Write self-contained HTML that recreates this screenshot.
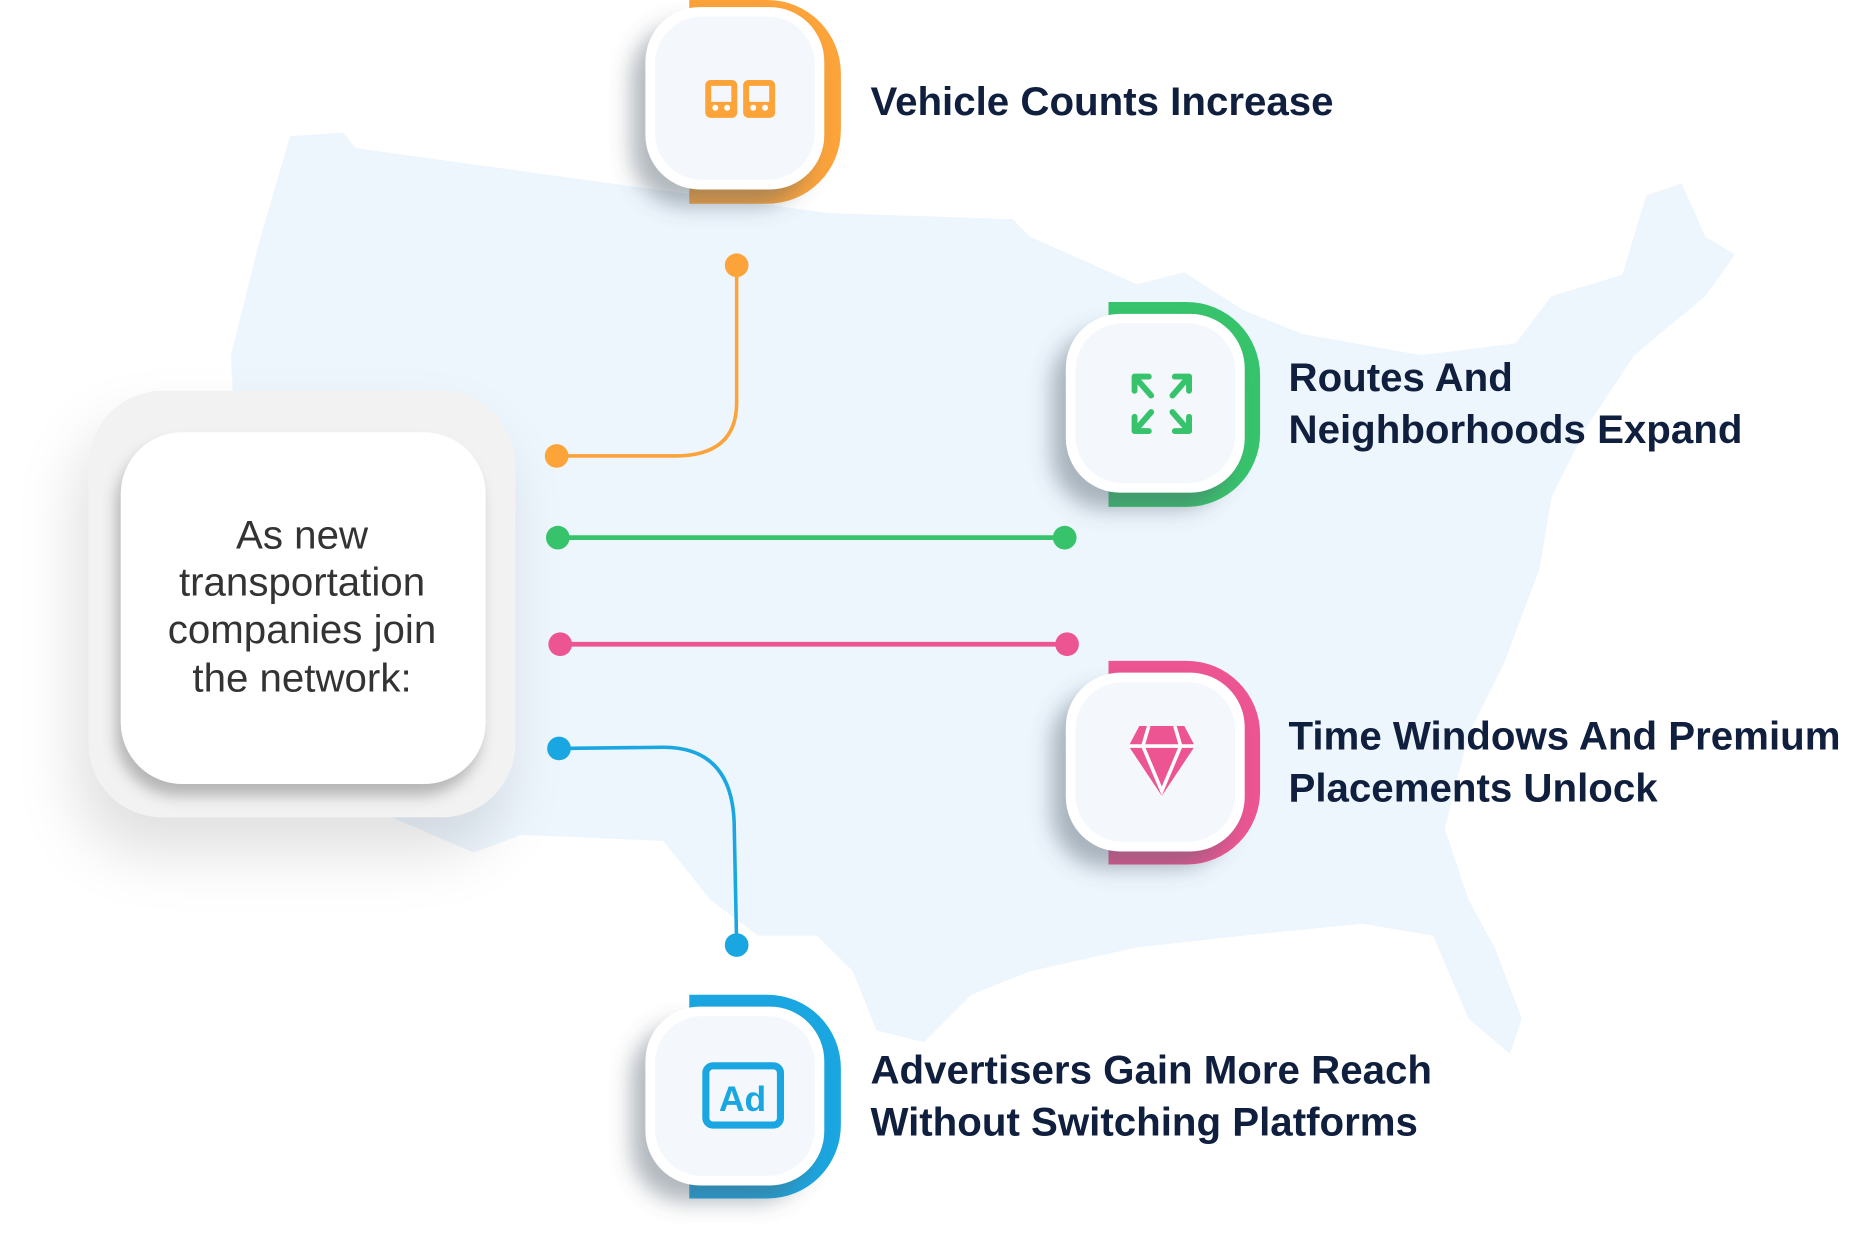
<!DOCTYPE html>
<html><head><meta charset="utf-8"><style>
html,body{margin:0;padding:0;background:#fff;width:1857px;height:1234px;overflow:hidden}
svg{display:block}
.t{font-family:"Liberation Sans",sans-serif;font-weight:bold;fill:#0f1f3d;font-size:34px}
.c{font-family:"Liberation Sans",sans-serif;fill:#333;font-size:34px;text-anchor:middle}
</style></head><body>
<svg width="1857" height="1234" viewBox="0 0 1568 1042" xmlns="http://www.w3.org/2000/svg">
<defs>
<filter id="sh" x="-40%" y="-40%" width="180%" height="180%"><feDropShadow dx="-12" dy="14" stdDeviation="9" flood-color="#556070" flood-opacity="0.45"/></filter>
<filter id="sh2" x="-40%" y="-40%" width="180%" height="180%"><feDropShadow dx="-10" dy="30" stdDeviation="25" flood-color="#000" flood-opacity="0.12"/></filter>
<filter id="sh3" x="-20%" y="-20%" width="140%" height="140%"><feDropShadow dx="-4" dy="10" stdDeviation="6" flood-color="#000" flood-opacity="0.25"/></filter>
</defs>
<path fill="#edf5fd" d="M245,115 L290,112 L300,125 L480,150 L700,180 L855,185 L870,200 L960,240 L1000,230 L1050,262 L1100,282 L1200,300 L1280,290 L1310,250 L1370,232 L1390,165 L1420,155 L1440,200 L1465,215 L1440,250 L1380,300 L1340,360 L1310,420 L1300,480 L1270,560 L1240,620 L1220,700 L1240,760 L1262,800 L1285,860 L1275,890 L1240,860 L1210,790 L1150,780 L1050,790 L960,800 L870,820 L820,840 L780,880 L740,870 L720,820 L690,790 L640,790 L600,760 L560,710 L440,705 L400,720 L330,690 L250,680 L200,600 L200,400 L195,300 L220,200 Z"/>

<rect x="75" y="330" width="360" height="360" rx="62" fill="#f2f2f2" filter="url(#sh2)"/>
<rect x="102" y="365" width="308" height="297" rx="52" fill="#fff" filter="url(#sh3)"/>
<text class="c" x="255" y="463">As new</text>
<text class="c" x="255" y="503">transportation</text>
<text class="c" x="255" y="543">companies join</text>
<text class="c" x="255" y="584">the network:</text>

<path d="M622,224 L622,340 Q622,385 570,385 L470,385" fill="none" stroke="#fca33a" stroke-width="3"/>
<circle cx="622" cy="224" r="10" fill="#fca33a"/><circle cx="470" cy="385" r="10" fill="#fca33a"/>
<line x1="471" y1="454" x2="899" y2="454" stroke="#37c36c" stroke-width="4"/>
<circle cx="471" cy="454" r="10" fill="#37c36c"/><circle cx="899" cy="454" r="10" fill="#37c36c"/>
<line x1="473" y1="544" x2="901" y2="544" stroke="#ec5592" stroke-width="4"/>
<circle cx="473" cy="544" r="10" fill="#ec5592"/><circle cx="901" cy="544" r="10" fill="#ec5592"/>
<path d="M472,632 L560,631 Q620,631 620,700 L622,798" fill="none" stroke="#1aa6e0" stroke-width="3"/>
<circle cx="472" cy="632" r="10" fill="#1aa6e0"/><circle cx="622" cy="798" r="10" fill="#1aa6e0"/>

<clipPath id="c1"><rect x="582" y="0" width="200" height="180"/></clipPath>
<rect x="470" y="0" width="240" height="172" rx="62" fill="#fca33a" clip-path="url(#c1)"/>
<rect x="545" y="6" width="151" height="154" rx="46" fill="#fff" filter="url(#sh)"/>
<rect x="553" y="14" width="135" height="138" rx="40" fill="#f4f8fd"/>
<g fill="none" stroke="#fca33a" stroke-width="5"><rect x="598" y="70" width="22" height="27" rx="2"/><rect x="630" y="70" width="22" height="27" rx="2"/></g>
<g fill="#fca33a"><rect x="598" y="86" width="22" height="11"/><rect x="630" y="86" width="22" height="11"/></g>
<g fill="#fff"><circle cx="604" cy="91" r="2.5"/><circle cx="614" cy="91" r="2.5"/><circle cx="636" cy="91" r="2.5"/><circle cx="646" cy="91" r="2.5"/></g>
<text class="t" x="735" y="97">Vehicle Counts Increase</text>

<clipPath id="c2"><rect x="936" y="250" width="200" height="185"/></clipPath>
<rect x="820" y="255" width="244" height="173" rx="62" fill="#37c36c" clip-path="url(#c2)"/>
<rect x="900" y="265" width="151" height="151" rx="46" fill="#fff" filter="url(#sh)"/>
<rect x="908" y="273" width="135" height="135" rx="40" fill="#f4f8fd"/>
<g stroke="#37c36c" stroke-width="5" fill="none" stroke-linecap="round" stroke-linejoin="round">
<path d="M958,330 L958,318 L970,318 M958,318 L972,334"/>
<path d="M1004,330 L1004,318 L992,318 M1004,318 L990,334"/>
<path d="M958,352 L958,364 L970,364 M958,364 L972,348"/>
<path d="M1004,352 L1004,364 L992,364 M1004,364 L990,348"/>
</g>
<text class="t" x="1088" y="330">Routes And</text>
<text class="t" x="1088" y="374">Neighborhoods Expand</text>

<clipPath id="c3"><rect x="936" y="550" width="200" height="185"/></clipPath>
<rect x="820" y="558" width="244" height="172" rx="62" fill="#ec5592" clip-path="url(#c3)"/>
<rect x="900" y="568" width="151" height="151" rx="46" fill="#fff" filter="url(#sh)"/>
<rect x="908" y="576" width="135" height="135" rx="40" fill="#f4f8fd"/>
<path d="M962,613 L1000,613 L1009,630 L981,672 L953,630 Z" fill="#ec5592"/>
<path d="M953,630 L1009,630 M970,613 L965,630 L981,668 L997,630 L992,613" stroke="#fff" stroke-width="3" fill="none"/>
<text class="t" x="1088" y="633">Time Windows And Premium</text>
<text class="t" x="1088" y="677">Placements Unlock</text>

<clipPath id="c4"><rect x="582" y="835" width="200" height="185"/></clipPath>
<rect x="470" y="840" width="240" height="172" rx="62" fill="#1aa6e0" clip-path="url(#c4)"/>
<rect x="545" y="850" width="151" height="151" rx="46" fill="#fff" filter="url(#sh)"/>
<rect x="553" y="858" width="135" height="135" rx="40" fill="#f4f8fd"/>
<rect x="596" y="900" width="63" height="50" rx="6" fill="none" stroke="#1aa6e0" stroke-width="6"/>
<text x="627" y="938" text-anchor="middle" font-family="Liberation Sans,sans-serif" font-weight="bold" font-size="30" fill="#1aa6e0">Ad</text>
<text class="t" x="735" y="915">Advertisers Gain More Reach</text>
<text class="t" x="735" y="959">Without Switching Platforms</text>
</svg>
</body></html>
